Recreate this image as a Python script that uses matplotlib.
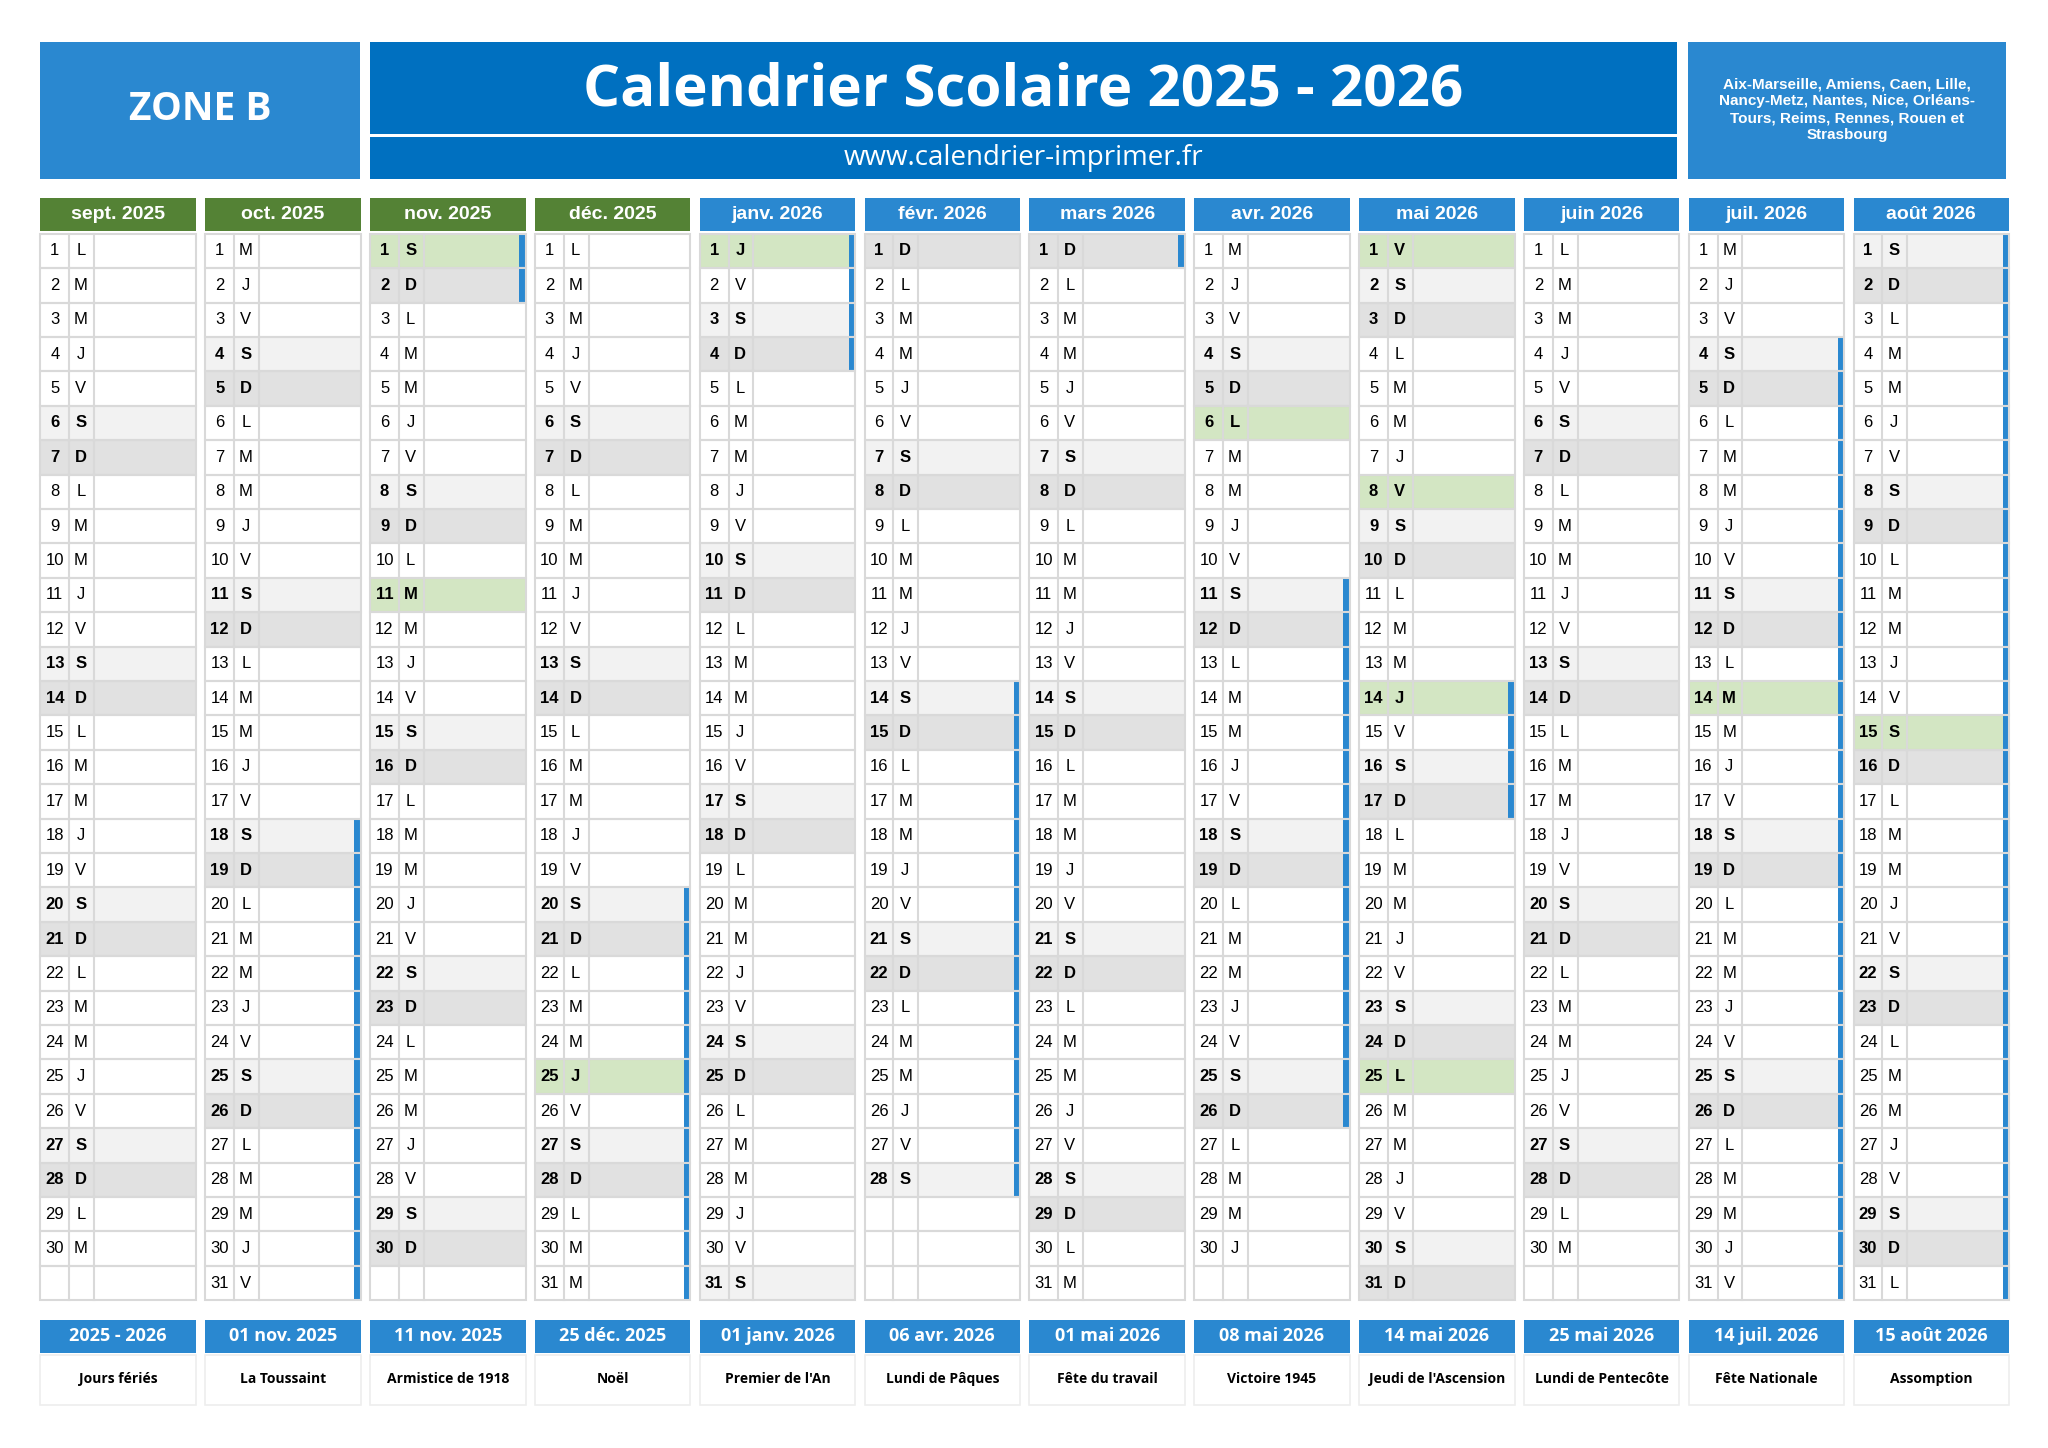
import matplotlib
matplotlib.use("Agg")
import matplotlib.pyplot as plt
from matplotlib.patches import Rectangle
import datetime as dt

months = ["sept. 2025","oct. 2025","nov. 2025","déc. 2025","janv. 2026","févr. 2026",
          "mars 2026","avr. 2026","mai 2026","juin 2026","juil. 2026","août 2026"]
month_year = [(2025,9),(2025,10),(2025,11),(2025,12),(2026,1),(2026,2),
              (2026,3),(2026,4),(2026,5),(2026,6),(2026,7),(2026,8)]
days_in_month = [30,31,30,31,31,28,31,30,31,30,31,31]
day_letters = ["L","M","M","J","V","S","D"]
holidays = [(2025,11,1),(2025,11,11),(2025,12,25),(2026,1,1),(2026,4,6),(2026,5,1),
            (2026,5,8),(2026,5,14),(2026,5,25),(2026,7,14),(2026,8,15)]
vacations = [((2025,10,18),(2025,11,2)),((2025,12,20),(2026,1,4)),((2026,2,14),(2026,3,1)),
             ((2026,4,11),(2026,4,26)),((2026,5,14),(2026,5,17)),((2026,7,4),(2026,8,31))]
footer_dates = ["2025 - 2026","01 nov. 2025","11 nov. 2025","25 déc. 2025","01 janv. 2026",
                "06 avr. 2026","01 mai 2026","08 mai 2026","14 mai 2026","25 mai 2026",
                "14 juil. 2026","15 août 2026"]
footer_labels = ["Jours fériés","La Toussaint","Armistice de 1918","Noël","Premier de l'An",
                 "Lundi de Pâques","Fête du travail","Victoire 1945","Jeudi de l'Ascension",
                 "Lundi de Pentecôte","Fête Nationale","Assomption"]

W, H = 1568, 1109
fig = plt.figure(figsize=(20.48, 14.48), dpi=100)
ax = fig.add_axes([0, 0, 1, 1])
ax.set_xlim(0, W); ax.set_ylim(H, 0); ax.axis("off")

BLUE = "#2a88d0"; DBLUE = "#0070c0"; GREEN = "#548235"
HGREEN = "#d3e6c3"; SAT = "#f2f2f2"; SUN = "#e1e1e1"; GRID = "#d9d9d9"
CF = "Open Sans"; TF = "Liberation Sans"

def rect(x, y, w, h, fc, ec="none", lw=0, z=1):
    ax.add_patch(Rectangle((x, y), w, h, facecolor=fc, edgecolor=ec, linewidth=lw, zorder=z))

# header
rect(31, 32, 245, 105, BLUE)
ax.text(153.5, 84, "ZONE B", color="white", fontsize=28, fontweight="bold", family=CF, ha="center", va="center")
rect(283, 32, 1001, 71, DBLUE)
rect(283, 105, 1001, 32, DBLUE)
ax.text(783.5, 69, "Calendrier Scolaire 2025 - 2026", color="white", fontsize=42, fontweight="bold",
        family=CF, ha="center", va="center")
ax.text(783.5, 121, "www.calendrier-imprimer.fr", color="white", fontsize=20, family=CF, ha="center", va="center")
rect(1292, 32, 244, 105, BLUE)
ax.text(1414, 84, "Aix-Marseille, Amiens, Caen, Lille,\nNancy-Metz, Nantes, Nice, Orléans-\nTours, Reims, Rennes, Rouen et\nStrasbourg",
        color="white", fontsize=11, fontweight="bold", family=TF, ha="center", va="center", linespacing=1.25)

x0, step, cw = 31, 126.2, 119
ytop, hh, rh = 152, 25, 26.35
vac_ranges = [(dt.date(*a), dt.date(*b)) for a, b in vacations]
hol = set(dt.date(*h) for h in holidays)

for i, (m, (yy, mm), nd) in enumerate(zip(months, month_year, days_in_month)):
    x = x0 + i * step
    rect(x, ytop, cw, hh, GREEN if i < 4 else BLUE)
    ax.text(x + cw / 2, ytop + hh / 2, m, color="white", fontsize=14, fontweight="bold", family=TF,
            ha="center", va="center")
    y1 = ytop + hh + 2
    for d in range(1, 32):
        y = y1 + (d - 1) * rh
        if d <= nd:
            date = dt.date(yy, mm, d)
            wd = date.weekday()
            invac = any(a <= date <= b for a, b in vac_ranges)
            fill_w = cw - 5 if invac else cw
            if date in hol:
                rect(x, y, fill_w, rh, HGREEN, z=1)
            elif wd == 5:
                rect(x, y, fill_w, rh, SAT, z=1)
            elif wd == 6:
                rect(x, y, fill_w, rh, SUN, z=1)
            bold = wd >= 5 or date in hol
            fw = "bold" if bold else "normal"
            ax.text(x + 11, y + rh / 2, str(d), fontsize=12, fontweight=fw, family=TF, ha="center", va="center", zorder=3)
            ax.text(x + 31, y + rh / 2, day_letters[wd], fontsize=12, fontweight=fw, family=TF, ha="center", va="center", zorder=3)
            if invac:
                rect(x + cw - 5, y, 5, rh, BLUE, z=2)
        rect(x, y, cw, rh, "none", ec=GRID, lw=1.5, z=2)
        ax.plot([x + 22, x + 22], [y, y + rh], color=GRID, lw=1.5, zorder=2)
        ax.plot([x + 41, x + 41], [y, y + rh], color=GRID, lw=1.5, zorder=2)

    # footer
    rect(x, 1011, cw, 25, BLUE)
    ax.text(x + cw / 2, 1023.5, footer_dates[i], color="white", fontsize=13, fontweight="bold", family=CF,
            ha="center", va="center")
    rect(x, 1038, cw, 38, "white", ec="#eeeeee", lw=1.2)
    ax.text(x + cw / 2, 1056, footer_labels[i], color="black", fontsize=10, fontweight="bold", family=CF,
            ha="center", va="center")

fig.savefig("out.png", dpi=100, facecolor="white")
